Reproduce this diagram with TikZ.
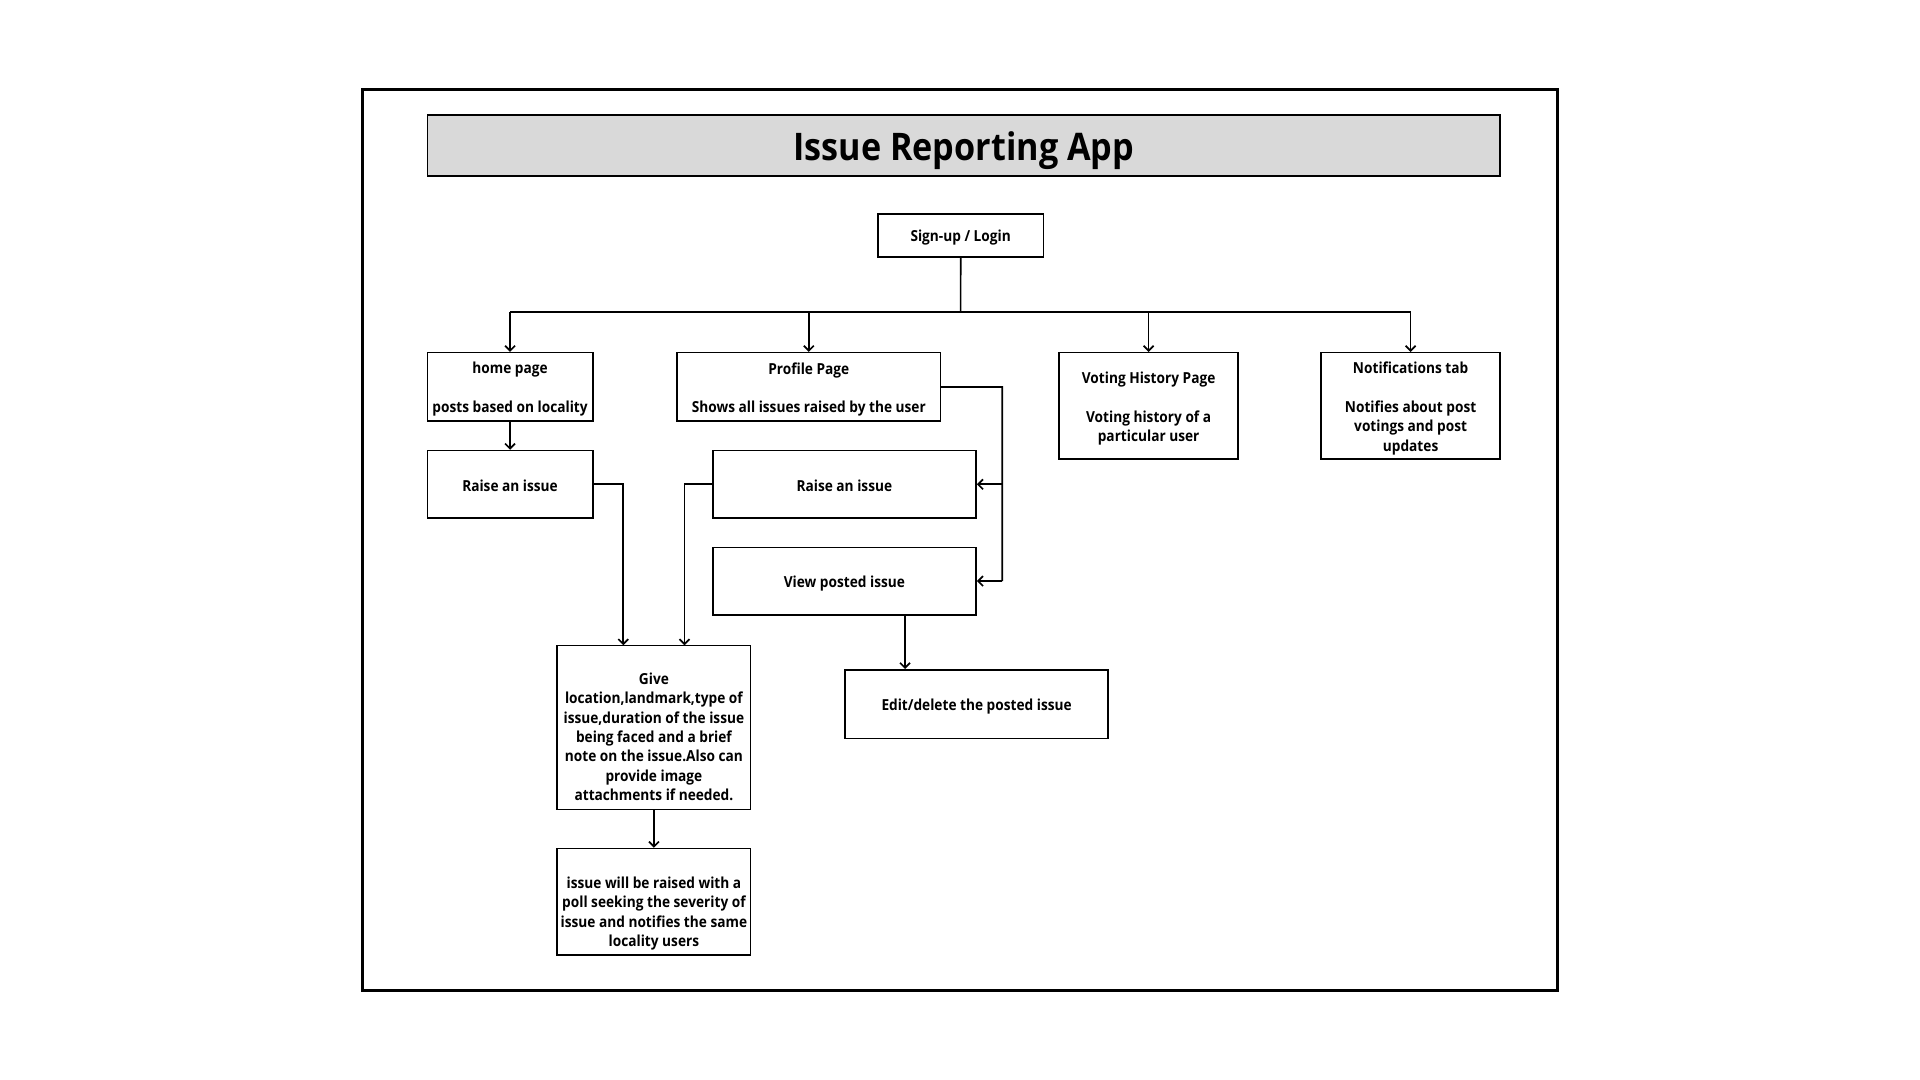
\documentclass[tikz,border=0pt]{standalone}
\usepackage{fontspec}
\setmainfont{Open Sans}[UprightFont=* Bold,FakeStretch=0.9]
\newfontfamily\titlefont{Open Sans}[UprightFont=* Bold,FakeStretch=0.9]
\usetikzlibrary{arrows.meta}
\tikzset{
  px/.style={x=0.5pt,y=-0.5pt},
  box/.style={draw,line width=0.8pt,inner sep=0pt},
  boxtext/.style={inner sep=0pt,align=center,font=\fontsize{7.6}{9.7}\selectfont},
  conn/.style={line width=0.85pt},
  arr/.style={conn,-{Straight Barb[length=2.5pt,width=5pt]}},
}
\newcommand{\bx}[7]{% name, x1,y1,x2,y2, text y-offset, text
  \node[box,minimum width={(#4-#2)*0.5pt},minimum height={(#5-#3)*0.5pt}] (#1) at ({(#2+#4)/2},{(#3+#5)/2}) {};
  \node[boxtext] (#1t) at ({(#2+#4)/2},{(#3+#5)/2+#6}) {#7};}
\begin{document}
\begin{tikzpicture}[px]
\useasboundingbox (0,0) rectangle (1920,1080);
\fill[white] (0,0) rectangle (1920,1080);
\draw[line width=1.5pt] (362.5,89.4) rectangle (1557.6,990.6);
\node[draw,line width=0.8pt,fill={rgb,255:red,217;green,217;blue,217},minimum width={(1500-427.4)*0.5pt},minimum height={(176.3-115.1)*0.5pt},inner sep=0pt] (title) at (963.7,145.7) {};
\node[font=\titlefont\fontsize{19}{22}\selectfont,inner sep=0pt] (titletext) at (963.7,150.5) {Issue Reporting App};
\bx{signup}{878}{214.3}{1043.3}{257.1}{1.5}{Sign-up / Login}
\bx{home}{427.4}{352.7}{592.7}{421.2}{2.5}{home page\\\mbox{}\\posts based on locality}
\bx{profile}{677.2}{352.7}{940.4}{421.2}{2.5}{Profile Page\\\mbox{}\\Shows all issues raised by the user}
\bx{voting}{1059.2}{352.7}{1238}{459.2}{2.5}{Voting History Page\\\mbox{}\\Voting history of a\\particular user}
\bx{notif}{1321.2}{352.7}{1500}{459.2}{2.5}{Notifications tab\\\mbox{}\\Notifies about post\\votings and post\\updates}
\bx{raiseA}{427.4}{450.6}{592.7}{518}{1.5}{Raise an issue}
\bx{raiseB}{712.7}{450.6}{976}{518}{1.5}{Raise an issue}
\bx{view}{712.7}{547.4}{976}{614.7}{2}{View posted issue}
\bx{edit}{845}{669.8}{1108.2}{738.4}{2}{Edit/delete the posted issue}
\bx{give}{557.2}{645.3}{750.6}{809.4}{9.5}{Give\\location,landmark,type of\\issue,duration of the issue\\being faced and a brief\\note on the issue.Also can\\provide image\\attachments if needed.}
\bx{result}{557.2}{848.6}{750.6}{955.1}{11.5}{issue will be raised with a\\poll seeking the severity of\\issue and notifies the same\\locality users}
% bus
\coordinate (bus) at (960.6,312.2);
\draw[conn] (signup.south) -- (bus);
\draw[conn] (bus -| home.north) -- (bus -| notif.north);
\draw[arr] (bus -| home.north) -- (home.north);
\draw[arr] (bus -| profile.north) -- (profile.north);
\draw[arr] (bus -| voting.north) -- (voting.north);
\draw[arr] (bus -| notif.north) -- (notif.north);
\draw[arr] (home.south) -- (raiseA.north);
% to give
\coordinate (ga) at (623.3,645.3);
\coordinate (gb) at (684.5,645.3);
\draw[arr] (raiseA.east) -| (ga);
\draw[arr] (raiseB.west) -| (gb);
% profile branch
\coordinate (pr) at (1002.3,386.9);
\draw[conn] (profile.east) -- (pr) -- (pr |- view.east);
\draw[arr] (pr |- raiseB.east) -- (raiseB.east);
\draw[arr] (pr |- view.east) -- (view.east);
\coordinate (va) at (905,614.7);
\draw[arr] (va) -- (va |- edit.north);
\draw[arr] (give.south) -- (result.north);
\end{tikzpicture}
\end{document}
